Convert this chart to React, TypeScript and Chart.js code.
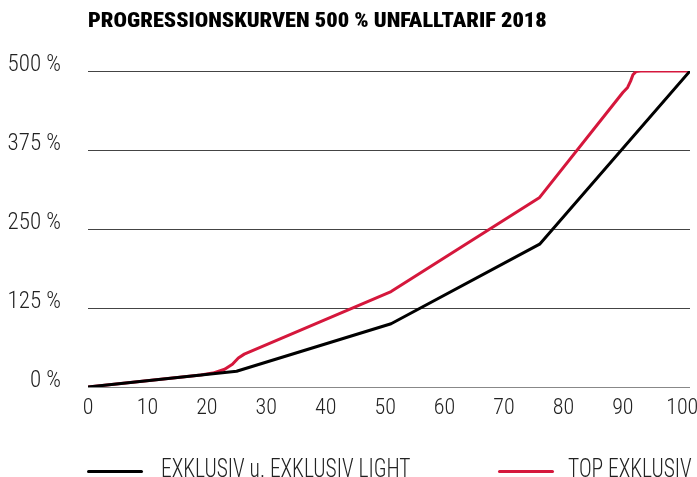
import React, { useEffect, useRef } from "react";
import { Chart, registerables } from "chart.js";
Chart.register(...registerables);

const titleText = "PROGRESSIONSKURVEN 500 % UNFALLTARIF 2018";
const seriesBlackLabel = "EXKLUSIV u. EXKLUSIV LIGHT";
const seriesRedLabel = "TOP EXKLUSIV";

const blackX = [0, 25, 51, 76, 101.3];
const blackY = [0, 25, 100, 226, 500];

const redX = [0, 19, 21, 23, 24.3, 25.3, 26.3, 51, 76, 90, 90.8, 91.3, 91.7, 92.2, 93, 101.3];
const redY = [0, 19, 22, 28, 36, 46, 52, 151, 300, 466, 474, 484, 494, 499, 500, 500];

const xTickStep = 10;
const yTickStep = 125;
const yMax = 500;
const xMax = 101.3;

const FONT = "'Roboto Condensed', 'DejaVu Sans Condensed', sans-serif";
const TITLE_FONT = "'Roboto Condensed', 'Open Sans Condensed', sans-serif";
const BLACK = "#000000";
const RED = "#d5173c";

export default function App() {
  const ref = useRef<HTMLCanvasElement>(null);
  useEffect(() => {
    const chart = new Chart(ref.current!, {
      type: "line",
      data: {
        datasets: [
          {
            label: seriesBlackLabel,
            data: blackX.map((x, i) => ({ x, y: blackY[i] })),
            borderColor: BLACK,
            borderWidth: 3,
            pointRadius: 0,
            tension: 0,
            borderJoinStyle: "round",
            borderCapStyle: "round",
          },
          {
            label: seriesRedLabel,
            data: redX.map((x, i) => ({ x, y: redY[i] })),
            borderColor: RED,
            borderWidth: 3,
            pointRadius: 0,
            tension: 0,
            borderJoinStyle: "round",
            borderCapStyle: "round",
          },
        ],
      },
      options: {
        animation: false,
        responsive: false,
        maintainAspectRatio: false,
        layout: { padding: { top: 71, right: 7, bottom: 50, left: 0 } },
        plugins: { legend: { display: false }, tooltip: { enabled: false } },
        scales: {
          x: {
            type: "linear",
            min: 0,
            max: xMax,
            ticks: {
              stepSize: xTickStep,
              includeBounds: false,
              padding: 8,
              color: "#222",
              font: { family: FONT, size: 22, weight: "300" },
            },
            grid: { display: false, drawTicks: false },
            border: { display: false },
            afterFit: (s: any) => {
              s.height = 40;
              s.paddingRight = 0;
              s.paddingLeft = 0;
            },
          },
          y: {
            type: "linear",
            min: 0,
            max: yMax,
            ticks: {
              stepSize: yTickStep,
              callback: (v: any) => v + " %",
              padding: 27,
              labelOffset: -6,
              color: "#222",
              font: { family: FONT, size: 23, weight: "300" },
            },
            grid: {
              color: (ctx: any) => (ctx.tick && ctx.tick.value === 0 ? "#888" : "#444"),
              drawTicks: false,
              lineWidth: 1,
            },
            border: { display: false },
            afterFit: (s: any) => {
              s.width = 88;
            },
          },
        },
      },
    });
    return () => chart.destroy();
  }, []);

  const legendText: React.CSSProperties = {
    position: "absolute",
    top: 456,
    fontFamily: FONT,
    fontWeight: 300,
    fontSize: 25,
    color: "#222",
    whiteSpace: "nowrap",
    lineHeight: "25px",
    transform: "scaleX(0.86)",
    transformOrigin: "left center",
  };
  const legendLine = (color: string, left: number): React.CSSProperties => ({
    position: "absolute",
    left,
    top: 470,
    width: 56,
    height: 3,
    borderRadius: 1.5,
    background: color,
  });

  return (
    <div
      style={{
        position: "absolute",
        left: 0,
        top: 0,
        width: 697,
        height: 477,
        background: "#fff",
        overflow: "hidden",
      }}
    >
      <canvas ref={ref} width={697} height={477} style={{ position: "absolute", left: 0, top: 0 }} />
      <div
        style={{
          position: "absolute",
          left: 88,
          top: 10,
          fontFamily: TITLE_FONT,
          fontWeight: 900,
          fontSize: 21,
          lineHeight: "21px",
          color: "#000",
          whiteSpace: "nowrap",
          transform: "scaleX(1.065)",
          transformOrigin: "left center",
        }}
      >
        {titleText}
      </div>
      <div style={legendLine(BLACK, 87)} />
      <div style={{ ...legendText, left: 161 }}>{seriesBlackLabel}</div>
      <div style={legendLine(RED, 498)} />
      <div style={{ ...legendText, left: 568 }}>{seriesRedLabel}</div>
    </div>
  );
}
